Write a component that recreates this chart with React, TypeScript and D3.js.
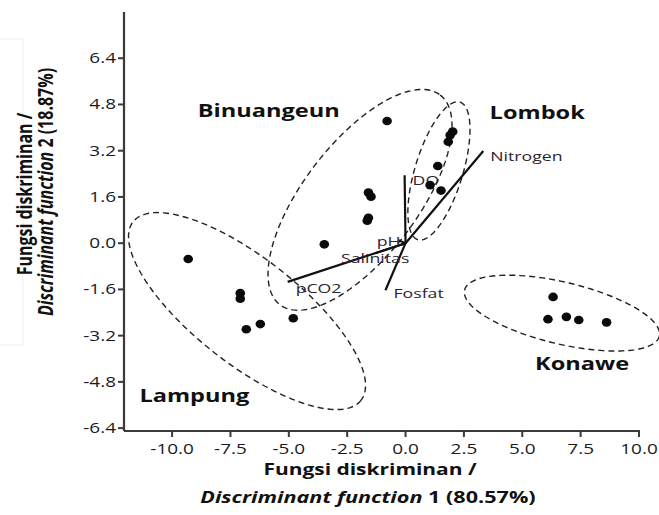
import React from "react";
import * as d3 from "d3";

// ---------- data ----------
const xTicks = [-10, -7.5, -5, -2.5, 0, 2.5, 5, 7.5, 10];
const yTicks = [-6.4, -4.8, -3.2, -1.6, 0, 1.6, 3.2, 4.8, 6.4];

const lampungX = [-9.31, -7.08, -7.08, -6.82, -6.22, -4.81];
const lampungY = [-0.55, -1.73, -1.92, -2.98, -2.8, -2.6];
const binuangeunX = [-3.48, -1.59, -1.48, -1.59, -1.64, -0.79];
const binuangeunY = [-0.04, 1.75, 1.61, 0.88, 0.78, 4.23];
const lombokX = [1.05, 1.52, 1.38, 1.83, 1.91, 2.02];
const lombokY = [2.01, 1.82, 2.67, 3.51, 3.74, 3.86];
const konaweX = [6.32, 6.1, 6.89, 7.42, 8.61];
const konaweY = [-1.86, -2.63, -2.55, -2.66, -2.74];

// group ellipses: center and two semi-axis vectors (data units)
const groupNames = ["Lampung", "Binuangeun", "Lombok", "Konawe"];
const ellipseCenters = [[-6.79, -2.35], [-1.95, 1.5], [1.43, 2.5], [6.7, -2.42]];
const ellipseAxisA = [[4.88, -3.09], [3.43, 3.63], [0.9, 2.38], [4.17, -0.8]];
const ellipseAxisB = [[-1.4, -1.44], [1.94, -1.19], [0.98, -0.24], [-0.31, -1.04]];
const groupLabelAnchor = [[-11.4, -5.5], [-8.9, 4.35], [3.6, 4.3], [5.55, -4.4]];

// biplot vectors
const vectorNames = ["DO", "Nitrogen", "pCO2", "Fosfat", "Salinitas", "pH"];
const vectorX = [-0.04, 3.33, -5.05, -0.86, -1.3, -0.3];
const vectorY = [2.35, 3.19, -1.34, -1.63, -0.35, 0.1];

// ---------- layout ----------
const W = 659;
const H = 515;
const SX = 1.31; // horizontal stretch of the original picture
const FONT = "'Open Sans', 'DejaVu Sans', sans-serif";

const x = d3.scaleLinear().domain([-12.06, 10]).range([124, 639]);
const y = d3.scaleLinear().domain([-6.5, 8]).range([431, 12]);

const labelOffsets: Record<string, { dx: number; dy: number; anchor: string }> = {
  DO: { dx: 8, dy: 10, anchor: "start" },
  Nitrogen: { dx: 7, dy: 10, anchor: "start" },
  pCO2: { dx: 8, dy: 11, anchor: "start" },
  Fosfat: { dx: 8, dy: 8, anchor: "start" },
  Salinitas: { dx: 0, dy: 10, anchor: "middle" },
  pH: { dx: 2, dy: 6, anchor: "end" },
};

function ellipsePath(c: number[], a: number[], b: number[]) {
  const pts: [number, number][] = d3.range(0, 160).map((i) => {
    const t = (i / 160) * Math.PI * 2;
    const dx = c[0] + a[0] * Math.cos(t) + b[0] * Math.sin(t);
    const dy = c[1] + a[1] * Math.cos(t) + b[1] * Math.sin(t);
    return [x(dx), y(dy)];
  });
  return d3.line().curve(d3.curveLinearClosed)(pts) || "";
}

function SText(props: {
  x: number;
  y: number;
  children: any;
  anchor?: string;
  size: number;
  weight?: string | number;
  fill?: string;
  rotate?: number;
}) {
  const { x: px, y: py, anchor = "start", size, weight = "normal", fill = "#111", rotate } = props;
  const tr = `translate(${px},${py}) scale(${SX},1)` + (rotate ? ` rotate(${rotate})` : "");
  return (
    <text
      transform={tr}
      textAnchor={anchor as any}
      fontFamily={FONT}
      fontSize={size}
      fontWeight={weight}
      fill={fill}
    >
      {props.children}
    </text>
  );
}

export default function App() {
  const groupsX = [lampungX, binuangeunX, lombokX, konaweX];
  const groupsY = [lampungY, binuangeunY, lombokY, konaweY];
  const x0 = x(0);
  const y0 = y(0);
  const axisColor = "#3a3a3a";
  const tickColor = "#1a1a26";
  const varColor = "#2c2330";

  return (
    <svg
      width={W}
      height={H}
      viewBox={`0 0 ${W} ${H}`}
      style={{ position: "absolute", left: 0, top: 0, background: "#fff" }}
    >
      <rect x={0} y={0} width={W} height={H} fill="#fff" />
      {/* faint remnant box at left */}
      <polyline points="0,39 23,39 23,345 0,345" fill="none" stroke="#ededed" strokeWidth={1} />

      {/* ellipses */}
      {groupNames.map((g, i) => (
        <path
          key={g}
          d={ellipsePath(ellipseCenters[i], ellipseAxisA[i], ellipseAxisB[i])}
          fill="none"
          stroke="#222"
          strokeWidth={1.4}
          strokeDasharray="6,4"
        />
      ))}

      {/* vectors */}
      {vectorNames.map((v, i) => (
        <line
          key={v}
          x1={x0}
          y1={y0}
          x2={x(vectorX[i])}
          y2={y(vectorY[i])}
          stroke="#111"
          strokeWidth={2.2}
        />
      ))}
      {vectorNames.map((v, i) => {
        const o = labelOffsets[v];
        return (
          <SText
            key={v + "l"}
            x={x(vectorX[i]) + o.dx}
            y={y(vectorY[i]) + o.dy}
            anchor={o.anchor}
            size={13.5}
            fill={varColor}
          >
            {v}
          </SText>
        );
      })}

      {/* points */}
      {groupsX.map((gx, gi) =>
        gx.map((vx, j) => (
          <ellipse key={gi + "-" + j} cx={x(vx)} cy={y(groupsY[gi][j])} rx={4.8} ry={4.3} fill="#0a0a0a" />
        ))
      )}

      {/* group labels */}
      {groupNames.map((g, i) => (
        <SText
          key={g + "lab"}
          x={x(groupLabelAnchor[i][0])}
          y={y(groupLabelAnchor[i][1])}
          size={18}
          weight="bold"
        >
          {g}
        </SText>
      ))}

      {/* axes */}
      <line x1={x.range()[0]} y1={y.range()[1]} x2={x.range()[0]} y2={y.range()[0]} stroke={axisColor} strokeWidth={2.2} />
      <line x1={x.range()[0]} y1={y.range()[0]} x2={x.range()[1] + 1} y2={y.range()[0]} stroke={axisColor} strokeWidth={2.2} />
      {xTicks.map((t) => (
        <g key={"xt" + t}>
          <line x1={x(t)} x2={x(t)} y1={y.range()[0]} y2={y.range()[0] + 6} stroke={axisColor} strokeWidth={2} />
          <SText x={x(t)} y={454} anchor="middle" size={14.5} fill={tickColor}>
            {t.toFixed(1)}
          </SText>
        </g>
      ))}
      {yTicks.map((t) => (
        <g key={"yt" + t}>
          <line x1={x.range()[0] - 6} x2={x.range()[0]} y1={y(t)} y2={y(t)} stroke={axisColor} strokeWidth={2} />
          <SText x={116} y={y(t) + 5} anchor="end" size={14.5} fill={tickColor}>
            {t.toFixed(1)}
          </SText>
        </g>
      ))}

      {/* axis titles */}
      <SText x={370} y={475} anchor="middle" size={16} weight="bold">
        Fungsi diskriminan /
      </SText>
      <SText x={368} y={503} anchor="middle" size={16.5} weight="bold">
        <tspan fontStyle="italic">Discriminant function</tspan>
        <tspan> 1 (80.57%)</tspan>
      </SText>
      <SText x={32} y={194} anchor="middle" size={16} weight="bold" rotate={-90}>
        Fungsi diskriminan /
      </SText>
      <SText x={53} y={192} anchor="middle" size={16} weight="bold" rotate={-90}>
        <tspan fontStyle="italic">Discriminant function</tspan>
        <tspan> 2 (18.87%)</tspan>
      </SText>
    </svg>
  );
}
